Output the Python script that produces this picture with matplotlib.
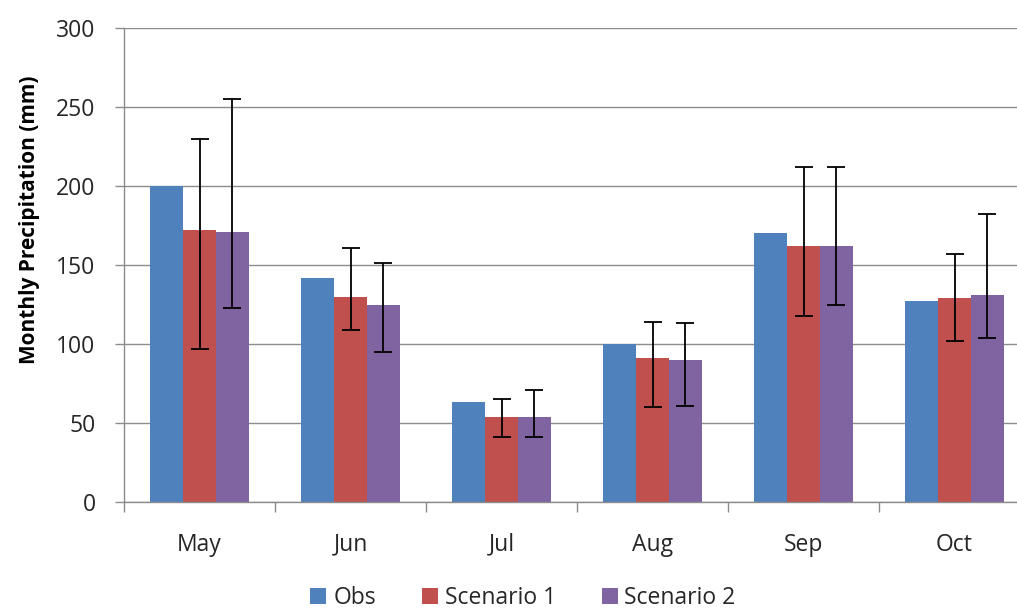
import matplotlib
matplotlib.use("Agg")
import matplotlib.pyplot as plt
import numpy as np

months = ["May", "Jun", "Jul", "Aug", "Sep", "Oct"]
obs = [200, 142, 63, 100, 170, 127]
sc1 = [172, 130, 54, 91, 162, 129]
sc2 = [171, 125, 54, 90, 162, 131]
sc1_low = [97, 109, 41, 60, 118, 102]
sc1_high = [230, 161, 65, 114, 212, 157]
sc2_low = [123, 95, 41, 61, 125, 104]
sc2_high = [255, 151, 71, 113, 212, 182]
yticks = [0, 50, 100, 150, 200, 250, 300]

plt.rcParams['font.family'] = ['Open Sans', 'DejaVu Sans']

W, H = 1017, 616
fig = plt.figure(figsize=(W / 100, H / 100), dpi=100)
ax = fig.add_axes([124 / W, (H - 502) / H, 906 / W, 474 / H])

x = np.arange(len(months)) + 0.5
bw = 0.218
c_obs, c_s1, c_s2 = '#4F81BD', '#C0504D', '#8064A2'

ax.bar(x - bw, obs, bw, color=c_obs, label='Obs', zorder=2)
ax.bar(x, sc1, bw, color=c_s1, label='Scenario 1', zorder=2)
ax.bar(x + bw, sc2, bw, color=c_s2, label='Scenario 2', zorder=2)

s1 = np.array(sc1); s2 = np.array(sc2)
ax.errorbar(x, s1, yerr=[s1 - np.array(sc1_low), np.array(sc1_high) - s1],
            fmt='none', ecolor='black', elinewidth=1.3, capsize=6.5, capthick=1.3, zorder=3)
ax.errorbar(x + bw, s2, yerr=[s2 - np.array(sc2_low), np.array(sc2_high) - s2],
            fmt='none', ecolor='black', elinewidth=1.3, capsize=6.5, capthick=1.3, zorder=3)

ax.set_xlim(0, len(months))
ax.set_ylim(0, 300)
ax.set_yticks(yticks)
ax.set_yticklabels([str(v) for v in yticks])
ax.yaxis.grid(True, color='#8c8c8c', linewidth=1.0, zorder=0)
ax.set_axisbelow(True)

ax.set_xticks(np.arange(len(months) + 1))
ax.set_xticklabels([])
ax.set_xticks(x, minor=True)
ax.set_xticklabels(months, minor=True)
ax.tick_params(axis='x', which='minor', length=0, pad=22, labelsize=16.5, labelcolor='#262626')
ax.tick_params(axis='x', which='major', length=7, width=1, color='#8c8c8c', direction='out')
ax.tick_params(axis='y', length=6.5, width=1, color='#8c8c8c', pad=14, labelsize=16.5, labelcolor='#262626')

for s in ['top', 'right']:
    ax.spines[s].set_visible(False)
for s in ['left', 'bottom']:
    ax.spines[s].set_color('#8c8c8c')
    ax.spines[s].set_linewidth(1.0)

fig.text(30 / W, 1 - 220 / H, 'Monthly Precipitation (mm)', rotation=90,
         ha='center', va='center', fontsize=15, fontweight='bold', color='black')

leg = fig.legend(loc='center', bbox_to_anchor=(523 / W, 1 - 598 / H), ncol=3, frameon=False,
                 fontsize=16.5, handlelength=0.7, handleheight=0.7, handletextpad=0.3,
                 columnspacing=2.0, labelcolor='#262626')

fig.savefig('out.png', dpi=100)
